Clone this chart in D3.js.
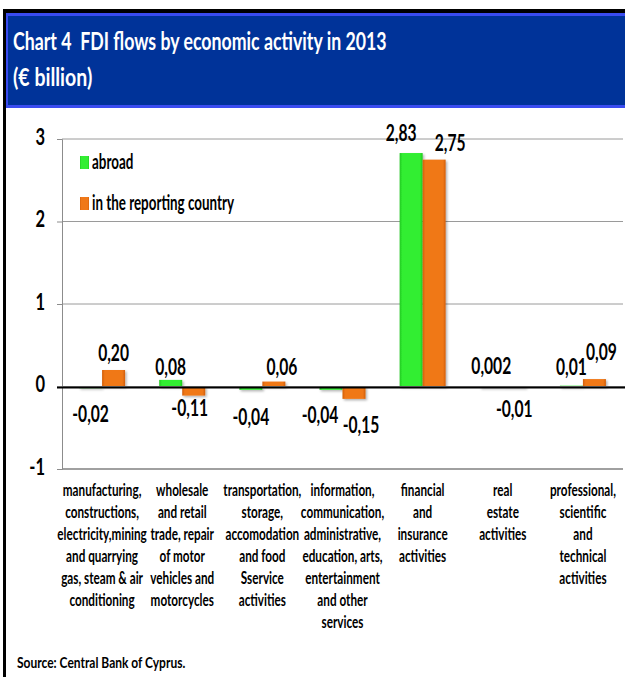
<!DOCTYPE html>
<html>
<head>
<meta charset="utf-8">
<script src="https://cdn.jsdelivr.net/npm/d3@7"></script>
<style>
  html, body { margin: 0; padding: 0; background: #ffffff; }
  svg { display: block; }
  text { font-family: Lato, "Open Sans", sans-serif; font-weight: 700; white-space: pre; }
</style>
</head>
<body>
<svg id="chart" width="625" height="677"></svg>
<script>
// FDI flows by economic activity in 2013 (€ billion)
const categories = [
  ["manufacturing,", "constructions,", "electricity,mining", "and quarrying", "gas, steam & air", "conditioning"],
  ["wholesale", "and retail", "trade, repair", "of motor", "vehicles and", "motorcycles"],
  ["transportation,", "storage,", "accomodation", "and food", "Sservice", "activities"],
  ["information,", "communication,", "administrative,", "education, arts,", "entertainment", "and other", "services"],
  ["financial", "and", "insurance", "activities"],
  ["real", "estate", "activities"],
  ["professional,", "scientific", "and", "technical", "activities"]
];
const seriesNames = ["abroad", "in the reporting country"];
const abroad = [-0.02, 0.08, -0.04, -0.04, 2.83, 0.002, 0.01];
const reporting = [0.20, -0.11, 0.06, -0.15, 2.75, -0.01, 0.09];
const abroadLabels = ["-0,02", "0,08", "-0,04", "-0,04", "2,83", "0,002", "0,01"];
const reportingLabels = ["0,20", "-0,11", "0,06", "-0,15", "2,75", "-0,01", "0,09"];
const yTicks = [-1, 0, 1, 2, 3];
const yTickLabels = ["-1", "0", "1", "2", "3"];

const svg = d3.select("#chart");
const W = 625, H = 677;

// condensed text: Lato squeezed horizontally
function ctext(parent, x, y, str, size, anchor, sx, fill) {
  const g = parent.append("g").attr("transform", `translate(${x},${y}) scale(${sx},1)`);
  g.append("text")
    .attr("x", 0).attr("y", 0)
    .attr("dy", "0.35em")
    .attr("xml:space", "preserve")
    .attr("text-anchor", anchor)
    .attr("font-size", size)
    .attr("fill", fill || "#000")
    .text(str);
  return g;
}

const defs = svg.append("defs");
function hGrad(id, stops) {
  const g = defs.append("linearGradient").attr("id", id).attr("x1", "0").attr("x2", "1").attr("y1", "0").attr("y2", "0");
  stops.forEach(s => g.append("stop").attr("offset", s[0]).attr("stop-color", s[1]));
}
hGrad("gGreen", [[0, "#1fc81f"], [0.12, "#33ee33"], [0.88, "#33ee33"], [1, "#1fc81f"]]);
hGrad("gOrange", [[0, "#d25f0a"], [0.12, "#f07818"], [0.88, "#f07818"], [1, "#d25f0a"]]);
const shadow = defs.append("filter").attr("id", "shadow").attr("x", "-20%").attr("y", "-20%").attr("width", "150%").attr("height", "150%");
shadow.append("feDropShadow").attr("dx", 1.5).attr("dy", 1.5).attr("stdDeviation", 1.2).attr("flood-color", "#000").attr("flood-opacity", 0.3);

// frame and title band
svg.append("rect").attr("x", 0).attr("y", 0).attr("width", W).attr("height", H).attr("fill", "#fff");
svg.append("rect").attr("x", 3).attr("y", 9).attr("width", W).attr("height", 4).attr("fill", "#000");
svg.append("rect").attr("x", 3).attr("y", 9).attr("width", 3).attr("height", H).attr("fill", "#000");
svg.append("rect").attr("x", 6).attr("y", 13).attr("width", W - 6).attr("height", 95).attr("fill", "#3a4cf0");
svg.append("rect").attr("x", 8).attr("y", 16).attr("width", W - 8).attr("height", 89).attr("fill", "#003399");

ctext(svg, 13, 41, "Chart 4  FDI flows by economic activity in 2013", 25, "start", 0.71, "#fff");
ctext(svg, 13, 77, "(€ billion)", 25, "start", 0.78, "#fff");

// scales
const plotL = 62, plotR = 623;
const y = d3.scaleLinear().domain([-1, 3]).range([469, 139]);
const x0 = d3.scaleBand().domain(d3.range(categories.length)).range([plotL, plotR]).paddingInner(0.426).paddingOuter(0.213);
const x1 = d3.scaleBand().domain(seriesNames).range([0, x0.bandwidth()]);

// gridlines
const grid = svg.append("g");
yTicks.forEach(t => {
  if (t === 0) return;
  grid.append("line").attr("x1", plotL).attr("x2", plotR).attr("y1", y(t)).attr("y2", y(t))
    .attr("stroke", t === -1 ? "#a0a0a0" : "#9a9a9a").attr("stroke-width", t === -1 ? 2 : 1);
});

// y axis
const yAxis = d3.axisLeft(y).tickValues(yTicks).tickSize(5).tickFormat((d, i) => yTickLabels[i]);
const yg = svg.append("g").attr("transform", `translate(${plotL},0)`).call(yAxis);
yg.select(".domain").attr("stroke", "#8c8c8c");
yg.selectAll(".tick line").attr("stroke", "#8c8c8c");
yg.selectAll(".tick text").remove();
yTicks.forEach((t, i) => ctext(svg, 45, y(t) - 2, yTickLabels[i], 22, "end", 0.75));

// bars
const series = [
  { name: seriesNames[0], values: abroad, labels: abroadLabels, fill: "url(#gGreen)" },
  { name: seriesNames[1], values: reporting, labels: reportingLabels, fill: "url(#gOrange)" }
];
const barsG = svg.append("g").attr("filter", "url(#shadow)");
series.forEach(s => {
  barsG.selectAll(null).data(s.values).enter().append("rect")
    .attr("x", (d, i) => x0(i) + x1(s.name))
    .attr("y", d => y(Math.max(0, d)))
    .attr("width", x1.bandwidth())
    .attr("height", d => Math.max(1.5, Math.abs(y(d) - y(0))))
    .attr("fill", s.fill);
});

// category axis line at zero
svg.append("line").attr("x1", plotL).attr("x2", W).attr("y1", y(0)).attr("y2", y(0)).attr("stroke", "#a0a0a0").attr("stroke-width", 1);
svg.append("line").attr("x1", plotL - 5).attr("x2", W).attr("y1", y(0) + 1).attr("y2", y(0) + 1).attr("stroke", "#000").attr("stroke-width", 2);

// value labels (outside end, with small hand nudges)
const nudges = [
  [[0, 9], [0, 4], [0, 10], [-11, 8], [-10, -3], [0, -3], [0, -2]],
  [[0, 0], [-4, -5], [8, 2], [7, 9], [16, 0], [0, 5], [7, -10]]
];
series.forEach((s, si) => {
  s.values.forEach((v, i) => {
    const cx = x0(i) + x1(s.name) + x1.bandwidth() / 2 + nudges[si][i][0];
    const cy = (v >= 0 ? y(v) - 17 : y(v) + 17) + nudges[si][i][1];
    ctext(svg, cx, cy, s.labels[i], 23, "middle", 0.68);
  });
});

// legend
const legend = svg.append("g");
const legendFills = ["url(#gGreen)", "url(#gOrange)"];
seriesNames.forEach((n, i) => {
  const ly = 163 + i * 41;
  legend.append("rect").attr("x", 80).attr("y", ly - 7).attr("width", 9).attr("height", 13).attr("fill", legendFills[i]);
  ctext(legend, 92, ly - 1, n, 20, "start", 0.67);
});

// category labels
categories.forEach((lines, i) => {
  const cx = x0(i) + x0.bandwidth() / 2;
  lines.forEach((ln, j) => ctext(svg, cx, 490 + j * 22, ln, 17, "middle", 0.69));
});

// source
ctext(svg, 17, 663, "Source: Central Bank of Cyprus.", 15, "start", 0.8);
</script>
</body>
</html>
